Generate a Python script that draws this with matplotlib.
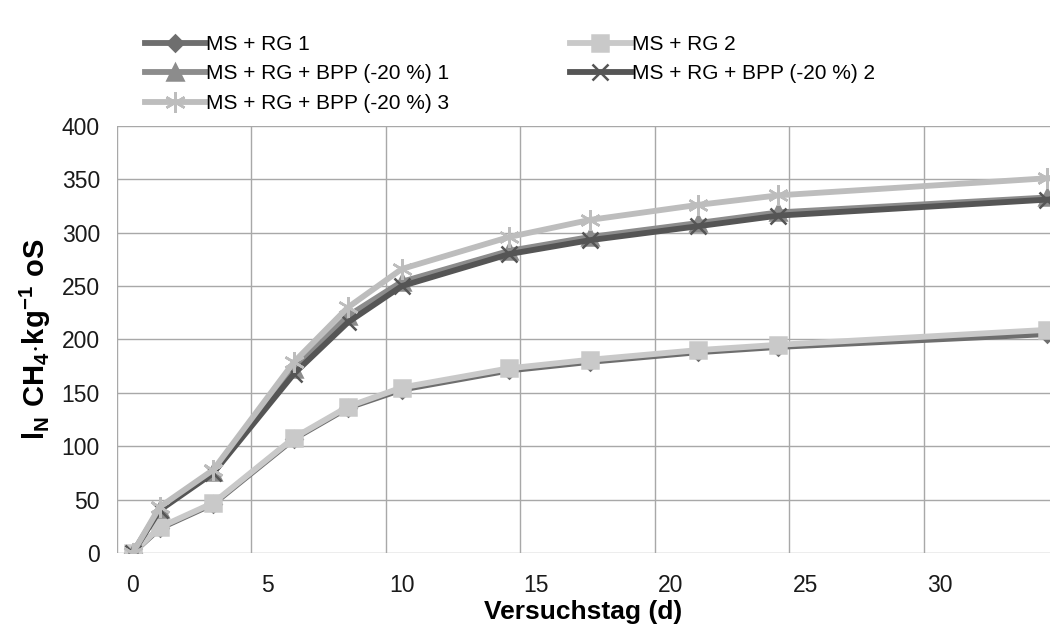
import numpy as np
import matplotlib
matplotlib.use('Agg')
import matplotlib.pyplot as plt

# Daten
versuchstag = [0, 1, 3, 6, 8, 10, 14, 17, 21, 24, 34]
ms_rg_1 = [0, 23, 46, 107, 136, 153, 171, 179, 188, 193, 205]
ms_rg_2 = [0, 24, 47, 108, 137, 155, 173, 181, 190, 195, 209]
bpp_1 = [0, 41, 76, 172, 222, 254, 283, 296, 309, 319, 333]
bpp_2 = [0, 40, 75, 168, 216, 250, 280, 293, 306, 316, 331]
bpp_3 = [0, 43, 78, 179, 230, 266, 296, 312, 326, 335, 351]

labels = ['MS + RG 1', 'MS + RG 2', 'MS + RG + BPP (-20 %) 1',
          'MS + RG + BPP (-20 %) 2', 'MS + RG + BPP (-20 %) 3']

plt.rcParams['font.family'] = ['Liberation Sans', 'DejaVu Sans']
plt.rcParams['mathtext.fontset'] = 'custom'
plt.rcParams['mathtext.rm'] = 'Liberation Sans'
plt.rcParams['mathtext.bf'] = 'Liberation Sans:bold'

fig = plt.figure(figsize=(10.5, 6.36), dpi=100)
ax = fig.add_axes([0.111, 0.1305, 0.889, 0.6715])

# Serien: (werte, farbe, marker, markergroesse)
serien = [
    (ms_rg_1, '#6e6e6e', 'D', 8),
    (ms_rg_2, '#c9c9c9', 's', 12),
    (bpp_1, '#8c8c8c', '^', 11),
    (bpp_2, '#555555', 'x', 11),
    (bpp_3, '#bdbdbd', (6, 2, 0), 15),
]

handles = []
for (werte, farbe, marker, ms), lab in zip(serien, labels):
    h, = ax.plot(versuchstag, werte, color=farbe, lw=4.2, marker=marker,
                 markersize=ms, markerfacecolor=farbe, markeredgecolor=farbe,
                 markeredgewidth=1.8, label=lab, zorder=3)
    handles.append(h)

ax.set_xlim(-0.6, 34.1)
ax.set_ylim(0, 400)
ax.set_xticks([0, 5, 10, 15, 20, 25, 30])
ax.set_yticks(np.arange(0, 401, 50))
ax.set_xticks(np.arange(-0.6, 34.1, 5), minor=True)
ax.grid(False)
ax.grid(True, which='minor', axis='x', color='#a8a8a8', lw=1)
ax.grid(True, which='major', axis='y', color='#a8a8a8', lw=1)
ax.set_axisbelow(True)
for s in ax.spines.values():
    s.set_visible(False)
ax.tick_params(axis='both', which='both', length=0, labelsize=16.5, colors='#1a1a1a')
ax.tick_params(axis='x', pad=15)
ax.tick_params(axis='y', pad=12)

ax.set_xlabel('Versuchstag (d)', fontsize=19, fontweight='bold', labelpad=2)
ax.set_ylabel(r'$\mathbf{l_N\ CH_4{\cdot}kg^{-1}\ oS}$', fontsize=21, labelpad=6)

reihenfolge = [0, 2, 4, 1, 3]
fig.legend([handles[i] for i in reihenfolge], [labels[i] for i in reihenfolge],
           ncol=2, loc='upper left', bbox_to_anchor=(0.13, 0.958),
           frameon=False, fontsize=15, handlelength=2.9, handletextpad=0.05,
           columnspacing=5.8, labelspacing=0.5, borderaxespad=0)

fig.savefig('out.png', dpi=100)
